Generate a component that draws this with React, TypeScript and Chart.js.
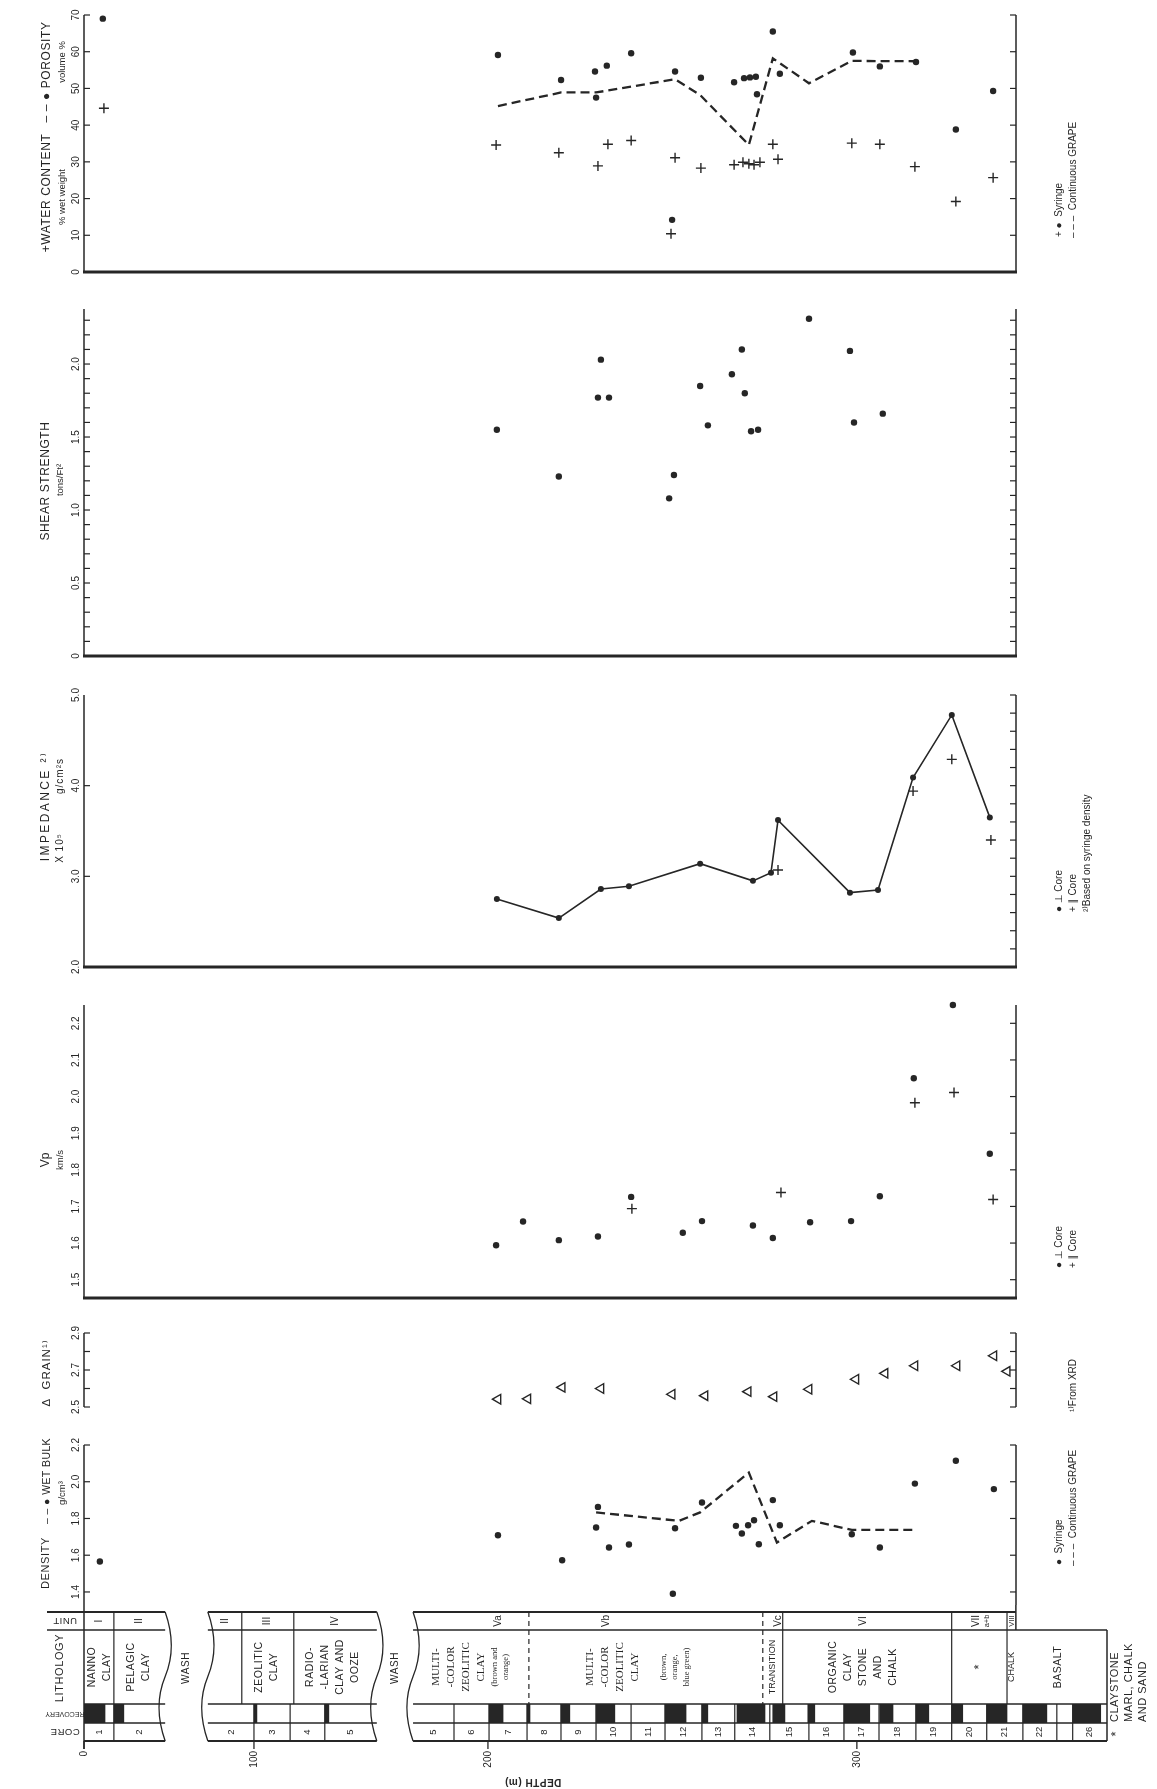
import React, { useEffect, useRef } from 'react';
import { Chart, registerables, LinearScale } from 'chart.js';

Chart.register(...registerables);

// ======================= DATA =======================
// Depth axis (m): the two washed intervals are drawn compressed
const WASH_FROM = [22, 133.3];
const WASH_TO = [87.5, 179.7];
const WASH_WIDTH = [11.57, 9.82];
const DEPTH_MAX_PANELS = 343.1;
const DEPTH_MAX_LOG = 367.8;
const DEPTH_TICKS = [0, 100, 200, 300];

// Water content / porosity
const POROSITY_DEPTH = [5.1, 202.7, 219.8, 229.0, 229.3, 232.2, 238.8, 249.9, 250.7, 257.7, 266.7, 269.4, 271.0, 272.6, 272.9, 277.2, 279.1, 298.9, 306.2, 316.0, 326.8, 336.9];
const POROSITY = [69.0, 59.1, 52.3, 54.6, 47.5, 56.2, 59.6, 14.2, 54.6, 52.9, 51.7, 52.8, 53.0, 53.2, 48.4, 65.5, 54.0, 59.8, 56.0, 57.2, 38.8, 49.3];
const WATER_DEPTH = [5.4, 202.2, 219.2, 229.8, 232.5, 238.8, 249.6, 250.7, 257.7, 266.7, 269.1, 270.7, 272.1, 273.7, 277.2, 278.6, 298.6, 306.2, 315.7, 326.8, 336.9];
const WATER = [44.6, 34.6, 32.5, 28.9, 34.8, 35.8, 10.4, 31.1, 28.3, 29.2, 29.9, 29.5, 29.2, 29.9, 34.8, 30.7, 35.1, 34.8, 28.7, 19.2, 25.7];
const POROSITY_GRAPE_DEPTH = [202.7, 219.8, 229.3, 250.7, 257.5, 270.7, 277.2, 287.0, 298.6, 315.7];
const POROSITY_GRAPE = [45.2, 48.9, 48.9, 52.5, 48.2, 34.6, 58.2, 51.4, 57.5, 57.4];

// Shear strength
const SHEAR_DEPTH = [202.4, 219.2, 229.8, 230.6, 232.8, 249.1, 250.4, 257.5, 259.6, 266.1, 268.8, 269.6, 271.3, 273.2, 287.0, 298.1, 299.2, 307.0];
const SHEAR = [1.55, 1.23, 1.77, 2.03, 1.77, 1.08, 1.24, 1.85, 1.58, 1.93, 2.10, 1.80, 1.54, 1.55, 2.31, 2.09, 1.60, 1.66];

// Impedance
const IMP_PERP_DEPTH = [202.4, 219.2, 230.6, 238.2, 257.5, 271.8, 276.7, 278.6, 298.1, 305.7, 315.2, 325.7, 336.0];
const IMP_PERP = [2.75, 2.54, 2.86, 2.89, 3.14, 2.95, 3.04, 3.62, 2.82, 2.85, 4.09, 4.78, 3.65];
const IMP_PAR_DEPTH = [278.6, 315.2, 325.7, 336.3];
const IMP_PAR = [3.07, 3.94, 4.29, 3.40];

// Vp
const VP_PERP_DEPTH = [202.2, 209.5, 219.2, 229.8, 238.8, 252.8, 258.0, 271.8, 277.2, 287.3, 298.4, 306.2, 315.4, 326.0, 336.0];
const VP_PERP = [1.594, 1.659, 1.608, 1.618, 1.726, 1.628, 1.660, 1.648, 1.614, 1.657, 1.660, 1.728, 2.050, 2.250, 1.844];
const VP_PAR_DEPTH = [239.0, 279.4, 315.7, 326.3, 336.9];
const VP_PAR = [1.694, 1.738, 1.983, 2.011, 1.719];

// Grain density
const GRAIN_DEPTH = [202.7, 210.8, 220.1, 230.6, 249.9, 258.8, 270.5, 277.5, 287.0, 299.7, 307.6, 315.7, 327.1, 337.1, 340.7];
const GRAIN = [2.542, 2.544, 2.606, 2.600, 2.569, 2.561, 2.583, 2.556, 2.596, 2.650, 2.682, 2.723, 2.723, 2.777, 2.693];

// Wet bulk density
const BULK_DEPTH = [4.3, 202.7, 220.1, 229.3, 229.8, 232.8, 238.2, 250.1, 250.7, 258.0, 267.2, 268.8, 270.5, 272.1, 273.4, 277.2, 279.1, 298.6, 306.2, 315.7, 326.8, 337.1];
const BULK = [1.566, 1.709, 1.573, 1.751, 1.863, 1.642, 1.658, 1.390, 1.747, 1.887, 1.760, 1.718, 1.763, 1.790, 1.660, 1.900, 1.763, 1.714, 1.642, 1.990, 2.114, 1.960];
const BULK_GRAPE_DEPTH = [229.3, 251.8, 257.5, 270.7, 278.3, 287.8, 298.6, 316.0];
const BULK_GRAPE = [1.833, 1.787, 1.833, 2.050, 1.669, 1.787, 1.738, 1.738];

// Core log
const SECTION_FROM = [0, 87.5, 179.7];
const SECTION_TO = [22, 133.3, 367.8];
const CORE_NAME = ['1', '2', '2', '3', '4', '5', '5', '6', '7', '8', '9', '10', '11', '12', '13', '14', '15', '16', '17', '18', '19', '20', '21', '22', '', '26'];
const CORE_TOP = [0, 8.1, 87.5, 100, 109.8, 119.2, 179.7, 190.8, 200.3, 210.6, 219.8, 229.3, 238.8, 248.0, 258.0, 266.9, 276.4, 287.0, 296.5, 306.0, 316.0, 325.7, 335.2, 345.0, 354.2, 358.5];
const CORE_BOTTOM = [8.1, 22, 100, 109.8, 119.2, 133.3, 190.8, 200.3, 210.6, 219.8, 229.3, 238.8, 248.0, 258.0, 266.9, 276.4, 287.0, 296.5, 306.0, 316.0, 325.7, 335.2, 345.0, 354.2, 358.5, 367.8];
const RECOVERY_TOP = [0, 8.1, 100, 119.2, 200.3, 210.6, 219.8, 229.3, 248.0, 258.0, 267.5, 277.2, 286.7, 296.5, 306.2, 316.0, 325.7, 335.2, 345.0, 358.5];
const RECOVERY_BOTTOM = [5.7, 10.8, 100.8, 120.3, 204.1, 211.4, 222.2, 234.4, 253.7, 259.6, 275.1, 280.5, 288.6, 303.5, 309.8, 319.5, 328.7, 340.7, 351.5, 366.1];
const UNIT_BREAK = [8.1, 96.7, 110.8, 211.1, 274.5, 279.9, 325.7, 340.7];
const UNIT_BREAK_DASHED = [false, false, false, true, true, false, false, false];
const UNIT_NAME = ['I', 'II', 'II', 'III', 'IV', 'Va', 'Vb', 'Vc', 'VI', 'VII', 'a+b', 'VIII'];
const UNIT_AT = [4.1, 14.9, 92.1, 103.7, 122.0, 202.7, 232.2, 278.6, 301.6, 332.3, 335.2, 342.0];
const LITH_AT = [4.1, 14.9, 103.5, 121.4, 192.1, 203.3, 233.7, 250.7, 277.2, 301.6, 333.2, 342.0, 354.5];
const LITH_TEXT = [
  ['NANNO', 'CLAY'],
  ['PELAGIC', 'CLAY'],
  ['ZEOLITIC', 'CLAY'],
  ['RADIO-', '-LARIAN', 'CLAY AND', 'OOZE'],
  ['MULTI-', '-COLOR', 'ZEOLITIC', 'CLAY'],
  ['(brown and', 'orange)'],
  ['MULTI-', '-COLOR', 'ZEOLITIC', 'CLAY'],
  ['(brown,', 'orange,', 'blue green)'],
  ['TRANSITION'],
  ['ORGANIC', 'CLAY', 'STONE', 'AND', 'CHALK'],
  ['*'],
  ['CHALK'],
  ['BASALT'],
];
const LITH_STYLE = ['sans', 'sans', 'sans', 'sans', 'serif', 'small', 'serif', 'small', 'tiny', 'sans', 'star', 'tiny', 'sans'];

// ======================= LAYOUT / STYLE =======================
const W = 1157;
const PLOT_LEFT = 84;
const PLOT_RIGHT = 1016;
const LOG_RIGHT = 1107;
const ROW_UNIT_TOP = 1612;
const ROW_LITH_TOP = 1630;
const ROW_REC_TOP = 1704;
const ROW_CORE_TOP = 1723;
const ROW_CORE_BOT = 1741;
const LEG_X1 = 1059;
const LEG_X2 = 1073;
const LEG_X3 = 1087;
const INK = '#262626';
const SANS = "'Liberation Sans', 'DejaVu Sans', Arial, sans-serif";
const SERIF = "'Liberation Serif', 'DejaVu Serif', serif";
const UP = -Math.PI / 2;

// ======================= DEPTH SCALE =======================
function toVisual(v: number) {
  let out = v;
  for (let i = 0; i < WASH_FROM.length; i++) {
    const a = WASH_FROM[i], b = WASH_TO[i], g = WASH_WIDTH[i];
    if (v >= b) out -= (b - a) - g;
    else if (v > a) out -= (v - a) * (1 - g / (b - a));
  }
  return out;
}
function fromVisual(t: number) {
  let shift = 0;
  for (let i = 0; i < WASH_FROM.length; i++) {
    const a = WASH_FROM[i], b = WASH_TO[i], g = WASH_WIDTH[i];
    const va = a - shift;
    if (t <= va) return t + shift;
    if (t <= va + g) return a + ((t - va) * (b - a)) / g;
    shift += (b - a) - g;
  }
  return t + shift;
}
class BrokenDepthScale extends LinearScale {
  static id = 'brokenDepth';
  static defaults = LinearScale.defaults;
  getPixelForValue(value: number) {
    const a = toVisual(this.min), b = toVisual(this.max);
    return this.getPixelForDecimal((toVisual(value) - a) / (b - a));
  }
  getValueForPixel(pixel: number) {
    const a = toVisual(this.min), b = toVisual(this.max);
    return fromVisual(a + this.getDecimalForPixel(pixel) * (b - a));
  }
}
Chart.register(BrokenDepthScale as any);

// ======================= HELPERS =======================
type TextItem = {
  text: string; x: number; y: number; size: number;
  align?: CanvasTextAlign; rot?: number; font?: string; spacing?: number; bold?: boolean;
};
function drawText(ctx: CanvasRenderingContext2D, t: TextItem, offsetY: number) {
  ctx.save();
  ctx.translate(t.x, t.y - offsetY);
  ctx.rotate(t.rot ?? UP);
  ctx.font = `${t.bold ? 'bold ' : ''}${t.size}px ${t.font ?? SANS}`;
  ctx.textAlign = t.align ?? 'center';
  ctx.textBaseline = 'middle';
  ctx.fillStyle = INK;
  (ctx as any).letterSpacing = `${t.spacing ?? 0}px`;
  ctx.fillText(t.text, 0, 0);
  ctx.restore();
}
function seg(ctx: CanvasRenderingContext2D, x1: number, y1: number, x2: number, y2: number) {
  ctx.beginPath();
  ctx.moveTo(x1, y1);
  ctx.lineTo(x2, y2);
  ctx.stroke();
}
function wavy(ctx: CanvasRenderingContext2D, x: number, y0: number, y1: number) {
  const h = (y1 - y0) / 2;
  ctx.beginPath();
  ctx.moveTo(x, y0);
  ctx.bezierCurveTo(x + 8, y0 + h * 0.35, x + 8, y0 + h * 0.7, x, y0 + h);
  ctx.bezierCurveTo(x - 8, y0 + h * 1.3, x - 8, y0 + h * 1.65, x, y1);
  ctx.stroke();
}
function steps(a: number, b: number, s: number): number[] {
  const out: number[] = [];
  for (let v = a; v <= b + 1e-9; v += s) out.push(Math.round(v * 1000) / 1000);
  return out;
}
const pts = (xs: number[], ys: number[]) => xs.map((x, i) => ({ x, y: ys[i] }));
const dotSet = (xs: number[], ys: number[]) => ({
  data: pts(xs, ys), showLine: false, pointStyle: 'circle', pointRadius: 3.2,
  pointBackgroundColor: INK, pointBorderColor: INK, pointBorderWidth: 0, clip: false,
});
const crossSet = (xs: number[], ys: number[]) => ({
  data: pts(xs, ys), showLine: false, pointStyle: 'cross', pointRadius: 5,
  pointBorderColor: INK, pointBorderWidth: 1.4, clip: false,
});
const triSet = (xs: number[], ys: number[]) => ({
  data: pts(xs, ys), showLine: false, pointStyle: 'triangle', pointRotation: -90, pointRadius: 5.5,
  pointBackgroundColor: 'rgba(0,0,0,0)', pointBorderColor: INK, pointBorderWidth: 1.4, clip: false,
});
const dashSet = (xs: number[], ys: number[]) => ({
  data: pts(xs, ys), showLine: true, borderColor: INK, borderWidth: 2.3, borderDash: [9, 5],
  pointRadius: 0, tension: 0, fill: false, clip: false,
});
const solidDotLine = (xs: number[], ys: number[]) => ({
  data: pts(xs, ys), showLine: true, borderColor: INK, borderWidth: 1.6, tension: 0,
  pointStyle: 'circle', pointRadius: 3, pointBackgroundColor: INK, pointBorderColor: INK,
  pointBorderWidth: 0, fill: false, clip: false,
});

type Panel = {
  key: string; top: number; height: number; padTop: number; padBottom: number;
  yMin: number; yMax: number; labels: number[]; labelText: string[];
  leftTicks: number[]; rightTicks: number[]; baseline: boolean;
  texts: TextItem[]; datasets: () => any[];
};

const LEG = 10;
const PANELS: Panel[] = [
  {
    key: 'porosity', top: 0, height: 300, padTop: 15, padBottom: 28, yMin: 0, yMax: 70,
    labels: [0, 10, 20, 30, 40, 50, 60, 70], labelText: ['0', '10', '20', '30', '40', '50', '60', '70'],
    leftTicks: steps(0, 70, 10), rightTicks: steps(0, 70, 10), baseline: true,
    texts: [
      { text: '+WATER CONTENT', x: 47, y: 193, size: 12, spacing: 0.6 },
      { text: '% wet weight', x: 62, y: 197, size: 9.5 },
      { text: '– – ● POROSITY', x: 47, y: 72, size: 12, spacing: 0.6 },
      { text: 'volume %', x: 62, y: 62, size: 9.5 },
      { text: '+ ●  Syringe', x: LEG_X1, y: 237, size: LEG, align: 'left' },
      { text: '– – –  Continuous GRAPE', x: LEG_X2, y: 238, size: LEG, align: 'left' },
    ],
    datasets: () => [
      dashSet(POROSITY_GRAPE_DEPTH, POROSITY_GRAPE),
      dotSet(POROSITY_DEPTH, POROSITY),
      crossSet(WATER_DEPTH, WATER),
    ],
  },
  {
    key: 'shear', top: 300, height: 380, padTop: 9, padBottom: 24, yMin: 0, yMax: 2.377,
    labels: [0, 0.5, 1, 1.5, 2], labelText: ['0', '0.5', '1.0', '1.5', '2.0'],
    leftTicks: steps(0.1, 2.3, 0.1), rightTicks: steps(0.1, 2.3, 0.1), baseline: true,
    texts: [
      { text: 'SHEAR STRENGTH', x: 46, y: 481, size: 12, spacing: 0.6 },
      { text: 'tons/Ft²', x: 60, y: 480, size: 9.5 },
    ],
    datasets: () => [dotSet(SHEAR_DEPTH, SHEAR)],
  },
  {
    key: 'impedance', top: 680, height: 310, padTop: 15, padBottom: 23, yMin: 2, yMax: 5,
    labels: [2, 3, 4, 5], labelText: ['2.0', '3.0', '4.0', '5.0'],
    leftTicks: [3, 4], rightTicks: steps(2.2, 5, 0.2), baseline: true,
    texts: [
      { text: 'IMPEDANCE ²⁾', x: 46, y: 806, size: 12, spacing: 2.4 },
      { text: 'X 10⁵', x: 60, y: 848, size: 10, spacing: 1 },
      { text: 'g/cm²s', x: 60, y: 776, size: 10, spacing: 1 },
      { text: '● ⊥ Core', x: LEG_X1, y: 912, size: LEG, align: 'left' },
      { text: '+ ∥ Core', x: LEG_X2, y: 912, size: LEG, align: 'left' },
      { text: '²⁾Based on syringe density', x: LEG_X3, y: 912, size: LEG, align: 'left' },
    ],
    datasets: () => [solidDotLine(IMP_PERP_DEPTH, IMP_PERP), crossSet(IMP_PAR_DEPTH, IMP_PAR)],
  },
  {
    key: 'vp', top: 990, height: 320, padTop: 15, padBottom: 12, yMin: 1.45, yMax: 2.25,
    labels: [1.5, 1.6, 1.7, 1.8, 1.9, 2.0, 2.1, 2.2], labelText: ['1.5', '1.6', '1.7', '1.8', '1.9', '2.0', '2.1', '2.2'],
    leftTicks: [], rightTicks: steps(1.5, 2.2, 0.1), baseline: true,
    texts: [
      { text: 'Vp', x: 46, y: 1160, size: 12 },
      { text: 'km/s', x: 60, y: 1160, size: 9.5 },
      { text: '● ⊥ Core', x: LEG_X1, y: 1268, size: LEG, align: 'left' },
      { text: '+ ∥ Core', x: LEG_X2, y: 1268, size: LEG, align: 'left' },
    ],
    datasets: () => [dotSet(VP_PERP_DEPTH, VP_PERP), crossSet(VP_PAR_DEPTH, VP_PAR)],
  },
  {
    key: 'grain', top: 1310, height: 120, padTop: 23, padBottom: 23, yMin: 2.5, yMax: 2.9,
    labels: [2.5, 2.7, 2.9], labelText: ['2.5', '2.7', '2.9'],
    leftTicks: steps(2.5, 2.9, 0.1), rightTicks: steps(2.5, 2.9, 0.1), baseline: false,
    texts: [
      { text: 'Δ  GRAIN¹⁾', x: 47, y: 1373, size: 11.5, spacing: 1 },
      { text: '¹⁾From XRD', x: LEG_X2, y: 1412, size: LEG, align: 'left' },
    ],
    datasets: () => [triSet(GRAIN_DEPTH, GRAIN)],
  },
  {
    key: 'bulk', top: 1430, height: 175, padTop: 15, padBottom: 0, yMin: 1.329, yMax: 2.2,
    labels: [1.4, 1.6, 1.8, 2.0, 2.2], labelText: ['1.4', '1.6', '1.8', '2.0', '2.2'],
    leftTicks: steps(1.4, 2.2, 0.2), rightTicks: steps(1.4, 2.2, 0.2), baseline: false,
    texts: [
      { text: '– – ● WET BULK', x: 47, y: 1481, size: 10.5, spacing: 0.4 },
      { text: 'g/cm³', x: 62, y: 1493, size: 9.5 },
      { text: 'DENSITY', x: 46, y: 1563, size: 11, spacing: 0.6 },
      { text: '●  Syringe', x: LEG_X1, y: 1565, size: LEG, align: 'left' },
      { text: '– – –  Continuous GRAPE', x: LEG_X2, y: 1566, size: LEG, align: 'left' },
    ],
    datasets: () => [dashSet(BULK_GRAPE_DEPTH, BULK_GRAPE), dotSet(BULK_DEPTH, BULK)],
  },
];

function panelPlugin(p: Panel) {
  return {
    id: 'panelDecor',
    afterDraw(chart: any) {
      const ctx = chart.ctx as CanvasRenderingContext2D;
      const { left, right, top, bottom } = chart.chartArea;
      const ys = chart.scales.y;
      ctx.save();
      ctx.strokeStyle = INK;
      ctx.lineWidth = 1.5;
      seg(ctx, left, top, left, bottom);
      seg(ctx, right, top, right, bottom);
      ctx.lineWidth = 1.2;
      for (const v of p.leftTicks) { const y = ys.getPixelForValue(v); seg(ctx, left, y, left + 6, y); }
      for (const v of p.rightTicks) { const y = ys.getPixelForValue(v); seg(ctx, right - 6, y, right, y); }
      if (p.baseline) { ctx.lineWidth = 3; seg(ctx, left - 1, bottom, right + 1, bottom); }
      ctx.restore();
      p.labels.forEach((v, i) => drawText(ctx, { text: p.labelText[i], x: left - 8, y: ys.getPixelForValue(v), size: 10 }, 0));
      p.texts.forEach((t) => drawText(ctx, t, p.top));
    },
  };
}

const LOG_TOP = 1605;
const LOG_HEIGHT = 184;

function logPlugin() {
  return {
    id: 'logDecor',
    afterDraw(chart: any) {
      const ctx = chart.ctx as CanvasRenderingContext2D;
      const xs = chart.scales.x;
      const X = (d: number) => xs.getPixelForValue(d);
      const Y = (py: number) => py - LOG_TOP;
      const x0 = X(0);
      const xPanelEnd = X(DEPTH_MAX_PANELS);
      const xEnd = X(DEPTH_MAX_LOG);
      ctx.save();
      ctx.strokeStyle = INK;
      ctx.lineWidth = 1.5;
      seg(ctx, x0, 0, x0, Y(ROW_CORE_BOT + 8));
      seg(ctx, xPanelEnd, 0, xPanelEnd, Y(ROW_LITH_TOP));
      ctx.lineWidth = 2.2;
      seg(ctx, 47, Y(ROW_UNIT_TOP), x0, Y(ROW_UNIT_TOP));
      ctx.lineWidth = 1.3;
      seg(ctx, 47, Y(ROW_LITH_TOP), x0, Y(ROW_LITH_TOP));
      SECTION_FROM.forEach((a, i) => {
        const b = SECTION_TO[i];
        const xa = X(a), xb = X(b);
        const xu = Math.min(xb, xPanelEnd);
        ctx.lineWidth = 2.2;
        seg(ctx, xa, Y(ROW_UNIT_TOP), xu, Y(ROW_UNIT_TOP));
        ctx.lineWidth = 1.3;
        seg(ctx, xa, Y(ROW_LITH_TOP), xb, Y(ROW_LITH_TOP));
        seg(ctx, xa, Y(ROW_REC_TOP), xb, Y(ROW_REC_TOP));
        seg(ctx, xa, Y(ROW_CORE_TOP), xb, Y(ROW_CORE_TOP));
        ctx.lineWidth = 2;
        seg(ctx, xa, Y(ROW_CORE_BOT), xb, Y(ROW_CORE_BOT));
        ctx.lineWidth = 1.3;
        if (i > 0) wavy(ctx, xa, Y(ROW_UNIT_TOP), Y(ROW_CORE_BOT));
        if (i < SECTION_FROM.length - 1) wavy(ctx, xb, Y(ROW_UNIT_TOP), Y(ROW_CORE_BOT));
      });
      ctx.lineWidth = 1.5;
      seg(ctx, xEnd, Y(ROW_LITH_TOP), xEnd, Y(ROW_CORE_BOT));
      ctx.lineWidth = 1.2;
      CORE_TOP.forEach((d) => {
        if (SECTION_FROM.includes(d)) return;
        seg(ctx, X(d), Y(ROW_REC_TOP), X(d), Y(ROW_CORE_BOT));
      });
      UNIT_BREAK.forEach((d, i) => {
        ctx.setLineDash(UNIT_BREAK_DASHED[i] ? [5, 4] : []);
        seg(ctx, X(d), Y(ROW_UNIT_TOP), X(d), Y(ROW_REC_TOP));
      });
      ctx.setLineDash([]);
      ctx.lineWidth = 1.3;
      DEPTH_TICKS.forEach((d) => seg(ctx, X(d), Y(ROW_CORE_BOT), X(d), Y(ROW_CORE_BOT + 8)));
      ctx.restore();

      const T = (t: TextItem) => drawText(ctx, t, LOG_TOP);
      const unitY = (ROW_UNIT_TOP + ROW_LITH_TOP) / 2;
      const lithY = 1667;
      const coreY = (ROW_CORE_TOP + ROW_CORE_BOT) / 2;
      UNIT_NAME.forEach((n, i) => {
        const small = n === 'a+b' || n === 'VIII';
        T({ text: n, x: X(UNIT_AT[i]), y: unitY, size: small ? 7.5 : 10 });
      });
      CORE_NAME.forEach((n, i) => {
        if (!n) return;
        T({ text: n, x: X((CORE_TOP[i] + CORE_BOTTOM[i]) / 2), y: coreY, size: 9.5 });
      });
      LITH_TEXT.forEach((lines, i) => {
        const st = LITH_STYLE[i];
        const size = st === 'serif' ? 11 : st === 'small' ? 8.5 : st === 'tiny' ? 9 : st === 'star' ? 13 : 10.5;
        const font = st === 'serif' || st === 'small' ? SERIF : SANS;
        const gap = st === 'small' ? 11.5 : 15;
        const c = X(LITH_AT[i]);
        lines.forEach((ln, j) => {
          T({ text: ln, x: c + (j - (lines.length - 1) / 2) * gap, y: lithY, size, font, spacing: st === 'sans' ? 0.5 : 0 });
        });
      });
      WASH_FROM.forEach((a, i) => {
        T({ text: 'WASH', x: X((a + WASH_TO[i]) / 2), y: 1668, size: 10, spacing: 0.6 });
      });
      T({ text: 'UNIT', x: 65, y: unitY, size: 9.5, rot: Math.PI, spacing: 0.5 });
      T({ text: 'LITHOLOGY', x: 60, y: 1668, size: 11, spacing: 0.6 });
      T({ text: 'RECOVERY', x: 65, y: (ROW_REC_TOP + ROW_CORE_TOP) / 2, size: 7, rot: Math.PI });
      T({ text: 'CORE', x: 65, y: coreY, size: 9.5, rot: Math.PI, spacing: 0.5 });
      DEPTH_TICKS.forEach((d) => T({ text: String(d), x: X(d), y: ROW_CORE_BOT + 10, size: 10, align: 'right' }));
      T({ text: 'DEPTH (m)', x: 533, y: 1782, size: 10, rot: Math.PI, bold: true, spacing: 0.5 });
      T({ text: '*', x: 1116, y: 1734, size: 13 });
      T({ text: 'CLAYSTONE', x: 1115, y: 1722, size: 11, align: 'left', spacing: 0.5 });
      T({ text: 'MARL, CHALK', x: 1129, y: 1722, size: 11, align: 'left', spacing: 0.5 });
      T({ text: 'AND SAND', x: 1143, y: 1722, size: 11, align: 'left', spacing: 0.5 });
    },
  };
}

function PanelChart({ panel }: { panel: Panel }) {
  const ref = useRef<HTMLCanvasElement>(null);
  useEffect(() => {
    const chart = new Chart(ref.current as HTMLCanvasElement, {
      type: 'scatter',
      data: { datasets: panel.datasets() },
      options: {
        responsive: false,
        animation: false,
        events: [],
        layout: {
          autoPadding: false,
          padding: { left: PLOT_LEFT, right: W - PLOT_RIGHT, top: panel.padTop, bottom: panel.padBottom },
        },
        plugins: { legend: { display: false }, tooltip: { enabled: false } },
        scales: {
          x: { type: 'brokenDepth', min: 0, max: DEPTH_MAX_PANELS, display: false },
          y: { type: 'linear', min: panel.yMin, max: panel.yMax, display: false },
        },
      } as any,
      plugins: [panelPlugin(panel)],
    });
    return () => chart.destroy();
  }, [panel]);
  return (
    <canvas
      ref={ref}
      width={W}
      height={panel.height}
      style={{ position: 'absolute', left: 0, top: panel.top, width: W, height: panel.height }}
    />
  );
}

function LogChart() {
  const ref = useRef<HTMLCanvasElement>(null);
  useEffect(() => {
    const chart = new Chart(ref.current as HTMLCanvasElement, {
      type: 'bar',
      data: {
        labels: ['RECOVERY'],
        datasets: [
          {
            data: RECOVERY_TOP.map((t, i) => ({ y: 'RECOVERY', x: [t, RECOVERY_BOTTOM[i]] })),
            backgroundColor: INK,
            borderWidth: 0,
            barPercentage: 1,
            categoryPercentage: 1,
          },
        ],
      },
      options: {
        indexAxis: 'y',
        responsive: false,
        animation: false,
        events: [],
        layout: {
          autoPadding: false,
          padding: {
            left: PLOT_LEFT,
            right: W - LOG_RIGHT,
            top: ROW_REC_TOP - LOG_TOP,
            bottom: LOG_TOP + LOG_HEIGHT - ROW_CORE_TOP,
          },
        },
        plugins: { legend: { display: false }, tooltip: { enabled: false } },
        scales: {
          x: { type: 'brokenDepth', min: 0, max: DEPTH_MAX_LOG, display: false },
          y: { type: 'category', display: false, offset: true },
        },
      } as any,
      plugins: [logPlugin()],
    });
    return () => chart.destroy();
  }, []);
  return (
    <canvas
      ref={ref}
      width={W}
      height={LOG_HEIGHT}
      style={{ position: 'absolute', left: 0, top: LOG_TOP, width: W, height: LOG_HEIGHT }}
    />
  );
}

export default function App() {
  return (
    <div style={{ position: 'absolute', left: 0, top: 0, width: W, height: 1789, background: '#ffffff', overflow: 'hidden' }}>
      {PANELS.map((p) => (
        <PanelChart key={p.key} panel={p} />
      ))}
      <LogChart />
    </div>
  );
}
